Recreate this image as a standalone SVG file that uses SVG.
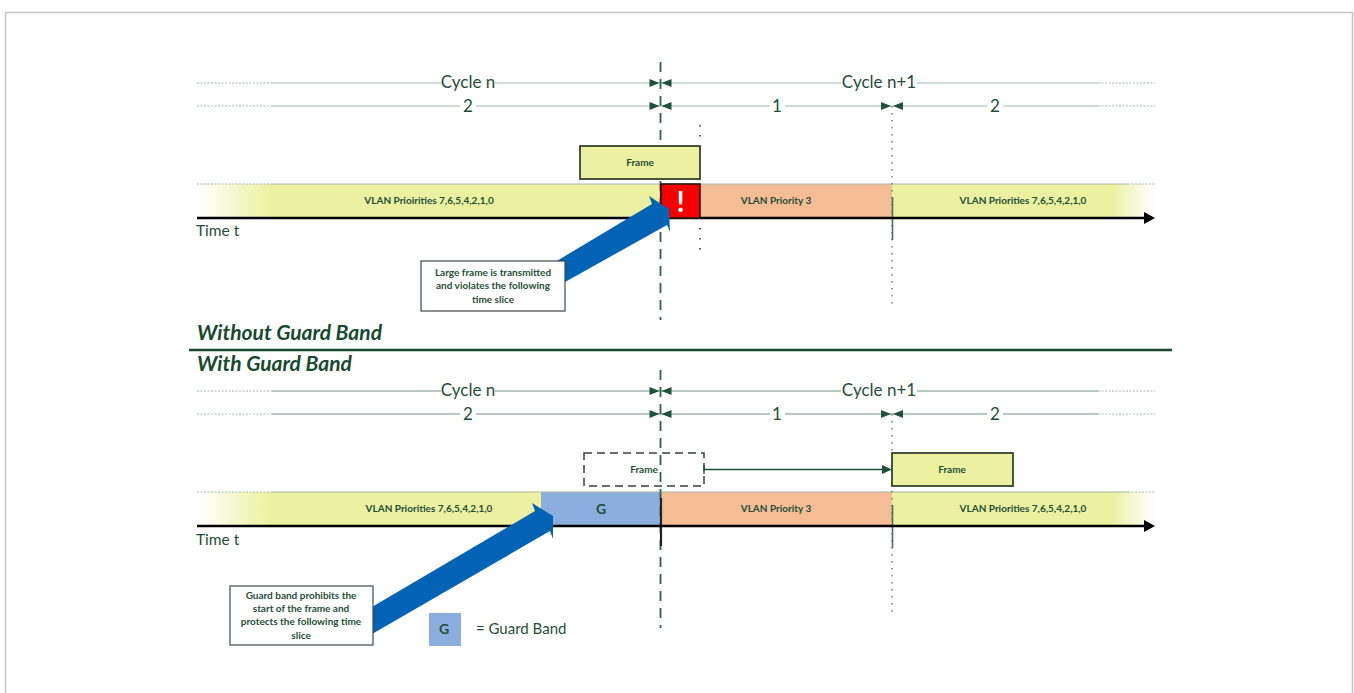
<svg xmlns="http://www.w3.org/2000/svg" width="1354" height="693" viewBox="0 0 1354 693">
<style>
text{font-family:"Lato","Open Sans","Liberation Sans",sans-serif;fill:#1f4e36}
.c{font-size:17px;text-anchor:middle}
.s{font-size:10px;font-weight:700;text-anchor:middle}
.t{font-size:15.5px}
.l{font-size:15px}
.h{font-size:21px;font-weight:700;font-style:italic;fill:#174a2f}
.dim{stroke:#a3b8ad;stroke-width:1;fill:none}
.dimd{stroke:#a3b8ad;stroke-width:1;fill:none;stroke-dasharray:2 1.5}
.bar{stroke:#a9b9a5;stroke-width:1;fill:none}
.dash{stroke:#2f6048;stroke-width:1.8;fill:none;stroke-dasharray:10 7}
.dot{stroke:#4f7262;stroke-width:1.3;fill:none;stroke-dasharray:1.5 5.5}
.dotk{stroke:#333;stroke-width:1.6;fill:none;stroke-dasharray:1.6 8.4}
.axis{stroke:#000;stroke-width:2.4;fill:none}
.frame{fill:#ebf1a0;stroke:#37432e;stroke-width:1.8}
.box{fill:#fff;stroke:#3e4a44;stroke-width:1.2}
.blue{fill:#0563b5}
.fl{fill:url(#fadeL)}.fr{fill:url(#fadeR)}
</style>
<defs>
<linearGradient id="fadeL" gradientUnits="userSpaceOnUse" x1="197" x2="272" y1="0" y2="0"><stop offset="0" stop-color="#ebf1a0" stop-opacity="0"/><stop offset="1" stop-color="#ebf1a0"/></linearGradient>
<linearGradient id="fadeR" gradientUnits="userSpaceOnUse" x1="1112" x2="1155" y1="0" y2="0"><stop offset="0" stop-color="#ebf1a0"/><stop offset="1" stop-color="#ebf1a0" stop-opacity="0"/></linearGradient>
<g id="bf"><polygon points="-11,-4 -1,0 -11,4" fill="#1d5238"/><polygon points="11,-4 1,0 11,4" fill="#1d5238"/></g>
</defs>
<path d="M5.5 693V12.5H1352.5V693" fill="none" stroke="#c4c4c4" stroke-width="1.5"/>

<g id="connectors">
<path class="dimd" d="M197 83H272M197 106H272M1098 83H1155M1098 106H1155M197 391H272M197 414H272M1098 391H1155M1098 414H1155"/>
<path class="dim" d="M272 83H441M495 83H841M917 83H1098M272 106H460M476 106H770M785 106H987M1003 106H1098"/>
<path class="dim" d="M272 391H441M495 391H841M917 391H1098M272 414H460M476 414H770M785 414H987M1003 414H1098" style="stroke-width:1.6"/>
</g>

<g id="band-top">
<rect class="fl" x="197" y="184" width="75" height="34"/>
<rect x="272" y="184" width="389" height="34" fill="#ebf1a0"/>
<rect x="700" y="184" width="192" height="34" fill="#f5bd95"/>
<rect x="892" y="184" width="220" height="34" fill="#ebf1a0"/>
<rect class="fr" x="1112" y="184" width="43" height="34"/>
<path class="dimd" d="M197 184H272M1128 184H1155"/>
<path class="bar" d="M272 184H1128"/>
</g>
<g id="band-bottom">
<rect class="fl" x="197" y="492" width="75" height="34"/>
<rect x="272" y="492" width="269" height="34" fill="#ebf1a0"/>
<rect x="541" y="492" width="120" height="34" fill="#8baedf"/>
<rect x="661" y="492" width="231" height="34" fill="#f5bd95"/>
<rect x="892" y="492" width="220" height="34" fill="#ebf1a0"/>
<rect class="fr" x="1112" y="492" width="43" height="34"/>
<path class="dimd" d="M197 492H272M1128 492H1155"/>
<path class="bar" d="M272 492H1128"/>
</g>

<g id="guides">
<path class="dash" d="M660.500 62V320M660.500 370V628"/>
<path class="dot" d="M892 106V308M892 414V616"/>
<path class="dotk" d="M700 125V140M700 228V250"/>
<path d="M661 184V226M661 498V546" stroke="#222" stroke-width="2.200" fill="none"/>
<path d="M892.500 197V240M892.500 505V548" stroke="#4d6f5e" stroke-width="1.600" fill="none"/>
<use href="#bf" x="660.500" y="83"/><use href="#bf" x="660.500" y="106"/><use href="#bf" x="892" y="106"/>
<use href="#bf" x="660.500" y="391"/><use href="#bf" x="660.500" y="414"/><use href="#bf" x="892" y="414"/>
</g>

<g id="axis-top"><path class="axis" d="M197 218H1146"/><polygon points="1144,212 1155,218 1144,224" fill="#000"/></g>
<g id="axis-bottom"><path class="axis" d="M197 526H1146"/><polygon points="1144,520 1155,526 1144,532" fill="#000"/></g>

<g id="header-top">
<text class="c" x="468" y="88">Cycle n</text><text class="c" x="468" y="112">2</text>
<text class="c" x="879" y="88">Cycle n+1</text><text class="c" x="777" y="112">1</text><text class="c" x="995" y="112">2</text>
</g>
<g id="header-bottom">
<text class="c" x="468" y="396">Cycle n</text><text class="c" x="468" y="420">2</text>
<text class="c" x="879" y="396">Cycle n+1</text><text class="c" x="777" y="420">1</text><text class="c" x="995" y="420">2</text>
</g>

<g id="labels-top">
<text class="s" x="429" y="204">VLAN Prioirities 7,6,5,4,2,1,0</text>
<text class="s" x="776" y="204">VLAN Priority 3</text>
<text class="s" x="1023" y="204">VLAN Priorities 7,6,5,4,2,1,0</text>
<text class="t" x="196" y="236">Time t</text>
</g>
<g id="labels-bottom">
<text class="s" x="429" y="512">VLAN Priorities 7,6,5,4,2,1,0</text>
<text class="s" x="776" y="512">VLAN Priority 3</text>
<text class="s" x="1023" y="512">VLAN Priorities 7,6,5,4,2,1,0</text>
<text class="t" x="196" y="545">Time t</text>
<text x="601" y="514" font-size="14" font-weight="700" text-anchor="middle">G</text>
</g>

<g id="frame-top"><rect class="frame" x="580" y="146" width="120" height="33"/><text class="s" x="640" y="166">Frame</text></g>
<g id="violation"><rect x="661" y="184" width="39" height="34" fill="#f40000" stroke="#2a1a10" stroke-width="1.600"/><text x="680.500" y="212" font-size="29" font-weight="700" text-anchor="middle" style="fill:#fff">!</text></g>
<g id="arrow-top"><polygon class="blue" points="540,271 652,204 649,196 669,209 670,232 667,225 540,296"/></g>
<g id="callout-top"><rect class="box" x="421" y="261" width="144" height="50"/>
<text class="s" x="493" y="276">Large frame is transmitted</text><text class="s" x="493" y="289">and violates the following</text><text class="s" x="493" y="303">time slice</text></g>

<g id="titles">
<text class="h" x="197" y="340">Without Guard Band</text>
<path d="M189 350H1172" stroke="#174a2f" stroke-width="2.600"/>
<text class="h" x="197" y="371">With Guard Band</text>
</g>

<g id="frame-dashed"><rect x="584" y="453" width="120" height="33" fill="none" stroke="#3a3f3c" stroke-width="1.500" stroke-dasharray="8 5"/><text class="s" x="644" y="473">Frame</text></g>
<g id="frame-moved"><rect class="frame" x="892" y="453" width="121" height="33"/><text class="s" x="952" y="473">Frame</text></g>
<g id="move-arrow"><path d="M704 469.500H884M704 465V474" stroke="#1d5238" stroke-width="1.300" fill="none"/><polygon points="882,465 892,469.500 882,474" fill="#1d5238"/></g>

<g id="arrow-bottom"><polygon class="blue" points="360,614 535,511 532,503 553,516 553,539 550,531 360,641"/></g>
<g id="callout-bottom"><rect class="box" x="230" y="586" width="143" height="59"/>
<text class="s" x="301" y="599">Guard band prohibits the</text><text class="s" x="301" y="612">start of the frame and</text><text class="s" x="301" y="625">protects the following time</text><text class="s" x="301" y="639">slice</text></g>
<g id="legend"><rect x="429" y="613" width="32" height="33" fill="#8baedf"/><text x="444" y="634" font-size="14" font-weight="700" text-anchor="middle">G</text><text class="l" x="476" y="634">= Guard Band</text></g>
</svg>
